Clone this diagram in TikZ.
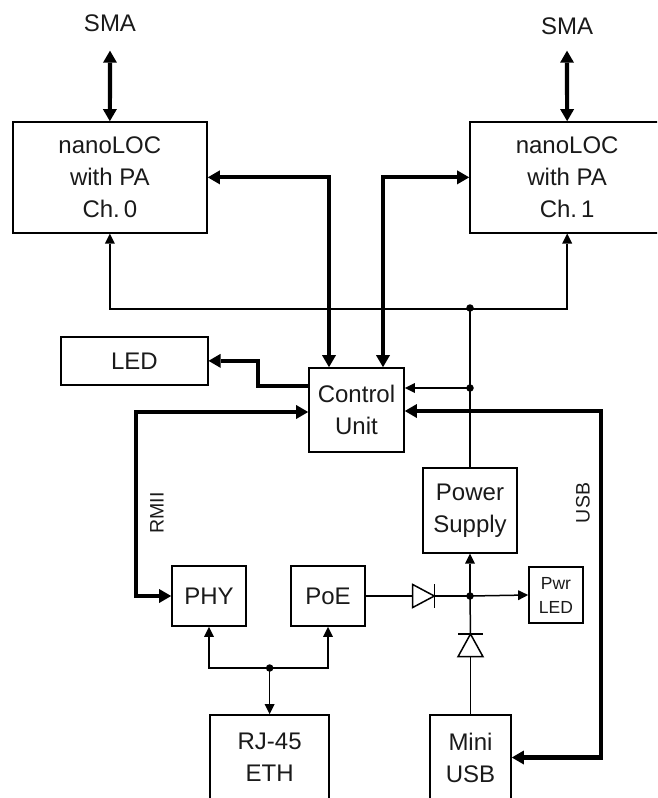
\documentclass[tikz,border=0pt]{standalone}
\usepackage{fontspec}
\setmainfont{Liberation Sans}
\usetikzlibrary{arrows.meta}
\definecolor{ink}{HTML}{1A1A1A}
\tikzset{
  blk/.style={draw, line width=1.7pt, inner sep=0pt, align=center, text=ink,
    font=\fontsize{24}{32}\selectfont},
  lbl/.style={inner sep=0pt, text=ink, font=\fontsize{24}{32}\selectfont},
  sidelbl/.style={inner sep=0pt, rotate=90, text=ink, font=\fontsize{19.5}{24}\selectfont},
  thk/.style={line width=4.2pt},
  thn/.style={line width=1.5pt},
  TT/.tip={Triangle[length=12pt,width=14pt,line width=0pt]},
  tt/.tip={Triangle[length=10pt,width=10pt,line width=0pt]},
  dot/.style={fill, circle, inner sep=0pt, minimum size=7.5pt},
  diode/.style={line width=1.5pt, fill=white}
}
\begin{document}
\begin{tikzpicture}[x=1pt,y=-1pt]
\useasboundingbox (0,0) rectangle (657,798);
\clip (0,0) rectangle (657,798);

% blocks
\node[blk, minimum width=194.3pt, minimum height=110.7pt] (ch0) at (109.85,177.35) {nanoLOC\\with PA\\Ch.\,0};
\node[blk, minimum width=194.3pt, minimum height=110.7pt] (ch1) at (567.15,177.35) {nanoLOC\\with PA\\Ch.\,1};
\node[lbl] (sma0) at (110,23) {SMA};
\node[lbl] (sma1) at (567,26) {SMA};
\node[blk, minimum width=146.7pt, minimum height=47.7pt] (led) at (134.35,360.85) {LED};
\node[blk, minimum width=95pt, minimum height=84pt] (cu) at (356.5,410) {Control\\Unit};
\node[blk, minimum width=94pt, minimum height=84.7pt] (ps) at (470,510.35) {Power\\Supply};
\node[blk, minimum width=74pt, minimum height=60pt] (phy) at (209,596) {PHY};
\node[blk, minimum width=74pt, minimum height=60pt] (poe) at (328,596) {PoE};
\node[blk, minimum width=54pt, minimum height=56pt, font=\fontsize{17.5}{24}\selectfont] (pled) at (556,595) {Pwr\\LED};
\node[blk, minimum width=119.3pt, minimum height=85pt] (rj) at (269.65,757.5) {RJ-45\\ETH};
\node[blk, minimum width=81pt, minimum height=85pt] (musb) at (470.5,757.5) {Mini\\USB};
\node[sidelbl] (rmii) at (157,513) {RMII};
\node[sidelbl] (usb) at (583,503) {USB};

% SMA arrows
\draw[thk,TT-TT] (ch0.north) -- ([yshift=-19pt]sma0.south);
\draw[thk,TT-TT] (ch1.north) -- ([yshift=-16pt]sma1.south);

% control unit to nanoLOC
\draw[thk,TT-TT] ([xshift=-27.5pt]cu.north) |- (ch0.east);
\draw[thk,TT-TT] ([xshift=26.5pt]cu.north) |- (ch1.east -| ch1.west);

% power distribution to nanoLOC
\coordinate (j1) at (470,308);
\coordinate (j2) at (470,388);
\draw[thn,tt-tt] (ch0.south) -- ++(0,75.3) -| (ch1.south);
\draw[thn] (j1) -- (ps.north);
\draw[thn,-tt] (j2) -- (j2 -| cu.east);
\node[dot] at (j1) {};
\node[dot] at (j2) {};

% LED
\draw[thk,-TT] ([yshift=24pt]cu.west) -- ++(-50,0) |- (led.east);

% RMII and USB
\draw[thk,TT-TT] ([yshift=-2pt]cu.west) -- ++(-172.3,0) |- (phy.west);
\draw[thk,TT-TT] ([yshift=-1pt]cu.east) -- ++(196,0) |- (musb.east);

% Ethernet
\coordinate (j4) at (rj.north |- 0,668);
\draw[thn,tt-tt] (phy.south) |- (j4) -| (poe.south);
\draw[thn,-tt] (j4) -- (rj.north);
\node[dot] at (j4) {};

% diodes and power junction
\coordinate (j3) at (470,596);
\coordinate (d1a) at (412.7,596);
\coordinate (d1k) at (434.3,596);
\coordinate (d2a) at (470.5,656.7);
\coordinate (d2k) at (470.5,634);
\draw[thn] (poe.east) -- (d1a);
\draw[thn] (d1k) -- (j3);
\draw[diode] (d1a) -- ++(0,-11.5) -- (d1k) -- ([yshift=-11.5pt]d1a) -- cycle;
\draw[thn] ([yshift=12pt]d1k) -- ([yshift=-12pt]d1k);
\draw[thn] (musb.north) -- (d2a);
\draw[thn] (d2k) -- (j3);
\draw[diode] (d2a) -- ++(-12.5,0) -- (d2k) -- ([xshift=12.5pt]d2a) -- cycle;
\draw[thn] ([xshift=-12.5pt]d2k) -- ([xshift=12.5pt]d2k);
\draw[thn,-tt] (j3) -- (ps.south);
\draw[thn,-tt] (j3) -- (pled.west);
\node[dot] at (j3) {};
\end{tikzpicture}
\end{document}
